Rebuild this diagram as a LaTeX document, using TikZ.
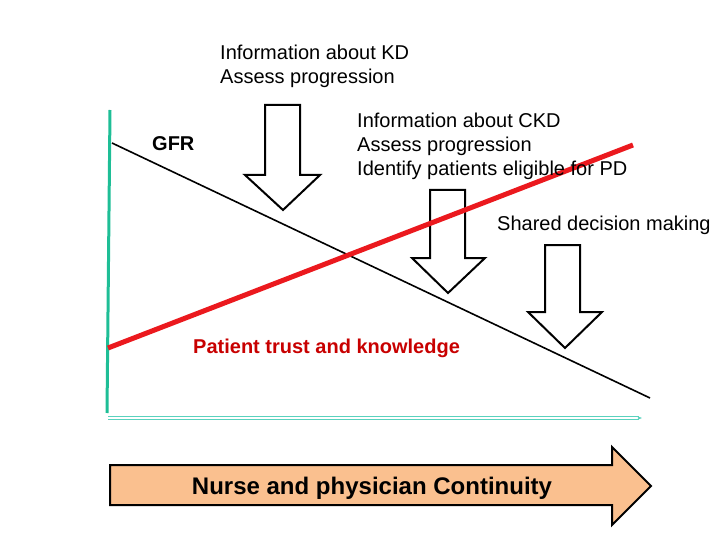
\documentclass[tikz,border=0pt]{standalone}
\usepackage{fontspec}
\usetikzlibrary{arrows.meta}
\setmainfont{Liberation Sans}
\begin{document}
\begin{tikzpicture}[x=1pt,y=-1pt,
  txt/.style={anchor=base west,inner sep=0,font=\fontsize{20}{24}\selectfont},
  barr/.style={draw=black,line width=2pt,fill=white,line join=miter}]
\useasboundingbox (0,0) rectangle (720,540);
% axes
\coordinate (v0) at (110,110); \coordinate (v1) at (107,413);
\draw[line width=3pt,color={rgb,255:red,30;green,190;blue,150}] (v0) -- (v1);
\coordinate (h0) at (108,418); \coordinate (h1) at (642,418);
\draw[double={white},double distance=1.5pt,line width=0.8pt,color={rgb,255:red,90;green,210;blue,190},-{Stealth[length=5pt]}] (h0) -- (h1);
% GFR line
\coordinate (g0) at (112,143); \coordinate (g1) at (650,398);
\draw[line width=1.6pt] (g0) -- (g1);
% down arrows
\draw[barr] (265,105) -- (300,105) -- (300,175) -- (320,175) -- (283,210) -- (245,175) -- (265,175) -- cycle;
\draw[barr] (430,190) -- (465,190) -- (465,258) -- (485,258) -- (448,293) -- (412,258) -- (430,258) -- cycle;
\draw[barr] (545,245) -- (580,245) -- (580,312) -- (602,312) -- (565,348) -- (528,312) -- (545,312) -- cycle;
% red line
\coordinate (r0) at (108,348); \coordinate (r1) at (633,145);
\draw[line width=5pt,color={rgb,255:red,235;green,25;blue,30}] (r0) -- (r1);
% texts
\node[txt] (t1a) at (220,60) {Information about KD};
\node[txt] (t1b) at (220,84) {Assess progression};
\node[txt] (t2a) at (357,128) {Information about CKD};
\node[txt] (t2b) at (357,152) {Assess progression};
\node[txt] (t2c) at (357,176) {Identify patients eligible for PD};
\node[txt,font=\fontsize{20}{24}\selectfont\bfseries] (gfr) at (152,151) {GFR};
\node[txt] (sdm) at (497,230) {Shared decision making};
\node[txt,font=\fontsize{20}{24}\selectfont\bfseries,text={rgb,255:red,200;green,0;blue,0}] (ptk) at (193,353) {Patient trust and knowledge};
% big arrow
\draw[line width=2pt,fill={rgb,255:red,250;green,192;blue,143}] (110,465) -- (612,465) -- (612,447) -- (651,486) -- (612,525) -- (612,505) -- (110,505) -- cycle;
\node[inner sep=0,font=\fontsize{24}{28}\selectfont\bfseries] (nc) at (372,488) {Nurse and physician Continuity};
\end{tikzpicture}
\end{document}
